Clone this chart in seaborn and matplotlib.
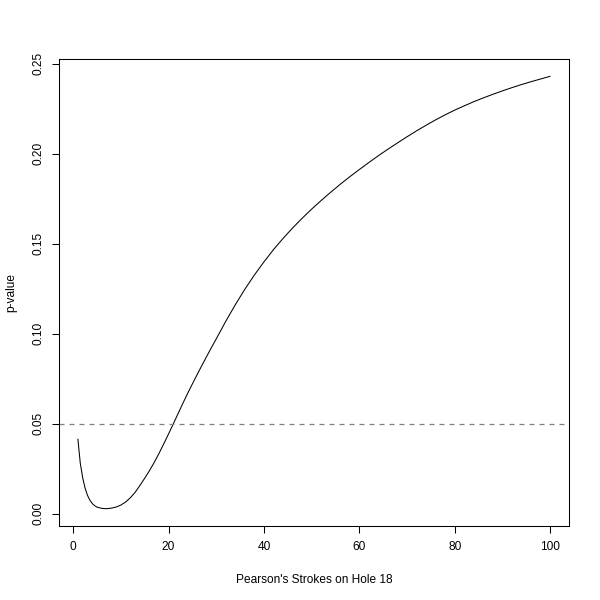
import matplotlib
matplotlib.use("Agg")
import matplotlib.pyplot as plt
import seaborn as sns
import pandas as pd

strokes = [1, 1.5, 2, 2.5, 3, 3.5, 4, 4.5] + list(range(5, 31)) + list(range(32, 101, 2))
p_values = [
    0.0414, 0.0280, 0.0200, 0.0142, 0.0102, 0.0075, 0.0056, 0.0044,
    0.0036, 0.0029, 0.0027, 0.0030, 0.0036, 0.0047,
    0.0064, 0.0088, 0.0118, 0.0156, 0.0196, 0.0238, 0.0284, 0.0334, 0.0387, 0.0442,
    0.0498, 0.0555, 0.0612, 0.0667, 0.0720, 0.0772, 0.0823, 0.0873, 0.0922, 0.0970,
    0.1068, 0.1160, 0.1246, 0.1325, 0.1398, 0.1466, 0.1528, 0.1586, 0.1640, 0.1691,
    0.1739, 0.1785, 0.1829, 0.1871, 0.1911, 0.1950, 0.1988, 0.2024, 0.2059, 0.2093,
    0.2126, 0.2157, 0.2187, 0.2215, 0.2241, 0.2265, 0.2288, 0.2309, 0.2329, 0.2348,
    0.2366, 0.2383, 0.2399, 0.2414, 0.2429,
]
threshold = 0.05
x_ticks = [0, 20, 40, 60, 80, 100]
y_ticks = [0.00, 0.05, 0.10, 0.15, 0.20, 0.25]
y_tick_labels = ["0.00", "0.05", "0.10", "0.15", "0.20", "0.25"]
x_label = "Pearson's Strokes on Hole 18"
y_label = "p-value"

sns.set_theme(style="white")
plt.rcParams["font.family"] = ["Liberation Sans", "DejaVu Sans"]

df = pd.DataFrame({"strokes": strokes, "p": p_values})

fig = plt.figure(figsize=(6, 6), dpi=100)
ax = fig.add_axes([59 / 600, 74 / 600, 510 / 600, 467 / 600])

sns.lineplot(data=df, x="strokes", y="p", ax=ax, color="black", linewidth=0.75)
ax.axhline(threshold, color="#808080", linewidth=0.9, linestyle=(0, (4, 4)))

# R-style 4% axis padding around data range
xr = max(strokes) - min(strokes)
yr = max(p_values) - min(p_values)
ax.set_xlim(min(strokes) - 0.04 * xr, max(strokes) + 0.04 * xr)
ax.set_ylim(min(p_values) - 0.04 * yr, max(p_values) + 0.04 * yr)
ax.set_xticks(x_ticks)
ax.set_xticklabels([str(t) for t in x_ticks])
ax.set_yticks(y_ticks)
ax.set_yticklabels(y_tick_labels, rotation=90, va="center")

for s in ax.spines.values():
    s.set_visible(True)
    s.set_color("black")
    s.set_linewidth(0.75)

ax.tick_params(axis="both", which="major", direction="out", length=5.2, width=0.75,
               color="black", labelsize=8.6, labelcolor="black", bottom=True, left=True)
ax.tick_params(axis="x", pad=5.5)
ax.tick_params(axis="y", pad=5)

ax.set_xlabel(x_label, fontsize=8.6, color="black", labelpad=15)
ax.set_ylabel(y_label, fontsize=8.6, color="black", labelpad=11)
ax.grid(False)

fig.savefig("out.png", dpi=100, facecolor="white")
